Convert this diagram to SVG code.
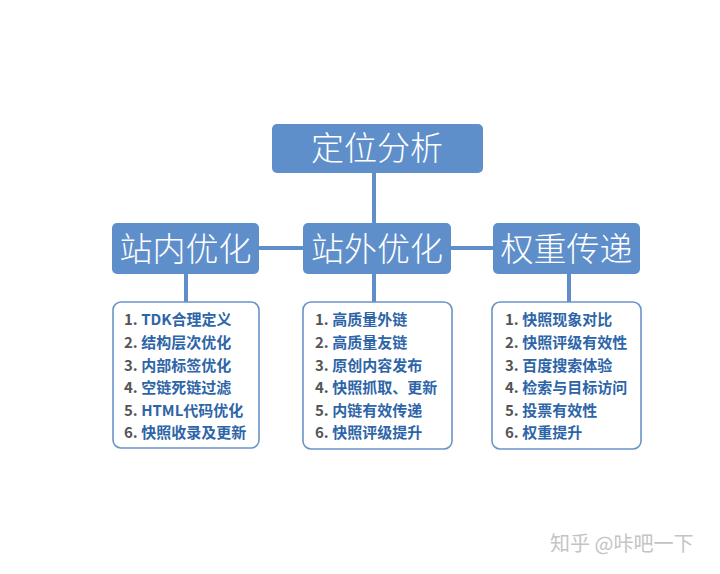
<svg xmlns="http://www.w3.org/2000/svg" width="720" height="574" viewBox="0 0 720 574">
<style>
.hd{fill:#5f8fcb}
.ht{fill:#ffffff;font-family:"Noto Sans CJK SC","Noto Sans",sans-serif;font-weight:300;font-size:33px;text-anchor:middle}
.lb{fill:#ffffff;stroke:#6a94c9;stroke-width:1.6}
.li{font-family:"Noto Sans CJK SC","Noto Sans",sans-serif;font-weight:700;font-size:15px;fill:#2e65a8}
.n{fill:#555555}
.cn{stroke:#5f8fcb;stroke-width:4;fill:none}
</style>
<rect width="720" height="574" fill="#ffffff"/>
<g id="connectors">
<line class="cn" x1="374" y1="172" x2="374" y2="224"/>
<line class="cn" x1="258" y1="248" x2="305" y2="248"/>
<line class="cn" x1="450" y1="248" x2="495" y2="248"/>
<line class="cn" x1="186" y1="272" x2="186" y2="303"/>
<line class="cn" x1="374" y1="272" x2="374" y2="303"/>
<line class="cn" x1="569" y1="272" x2="569" y2="303"/>
</g>
<g id="root">
<rect class="hd" x="272" y="124" width="211" height="49" rx="5"/>
<text class="ht" x="377" y="160">定位分析</text>
</g>
<g id="onsite">
<rect class="hd" x="112" y="223" width="147" height="51" rx="5"/>
<text class="ht" x="185.5" y="261">站内优化</text>
</g>
<g id="offsite">
<rect class="hd" x="303" y="223" width="148" height="51" rx="5"/>
<text class="ht" x="377" y="261">站外优化</text>
</g>
<g id="weight">
<rect class="hd" x="493" y="223" width="147" height="51" rx="5"/>
<text class="ht" x="566.5" y="261">权重传递</text>
</g>
<g id="list-onsite">
<rect class="lb" x="113" y="302" width="146" height="146" rx="8"/>
<text class="li" x="124" y="325"><tspan class="n">1. </tspan>TDK合理定义</text>
<text class="li" x="124" y="348"><tspan class="n">2. </tspan>结构层次优化</text>
<text class="li" x="124" y="371"><tspan class="n">3. </tspan>内部标签优化</text>
<text class="li" x="124" y="393"><tspan class="n">4. </tspan>空链死链过滤</text>
<text class="li" x="124" y="416"><tspan class="n">5. </tspan>HTML代码优化</text>
<text class="li" x="124" y="438"><tspan class="n">6. </tspan>快照收录及更新</text>
</g>
<g id="list-offsite">
<rect class="lb" x="303" y="302" width="149" height="147" rx="8"/>
<text class="li" x="315" y="325"><tspan class="n">1. </tspan>高质量外链</text>
<text class="li" x="315" y="348"><tspan class="n">2. </tspan>高质量友链</text>
<text class="li" x="315" y="371"><tspan class="n">3. </tspan>原创内容发布</text>
<text class="li" x="315" y="393"><tspan class="n">4. </tspan>快照抓取、更新</text>
<text class="li" x="315" y="416"><tspan class="n">5. </tspan>内链有效传递</text>
<text class="li" x="315" y="438"><tspan class="n">6. </tspan>快照评级提升</text>
</g>
<g id="list-weight">
<rect class="lb" x="492" y="302" width="149" height="147" rx="8"/>
<text class="li" x="505" y="325"><tspan class="n">1. </tspan>快照现象对比</text>
<text class="li" x="505" y="348"><tspan class="n">2. </tspan>快照评级有效性</text>
<text class="li" x="505" y="371"><tspan class="n">3. </tspan>百度搜索体验</text>
<text class="li" x="505" y="393"><tspan class="n">4. </tspan>检索与目标访问</text>
<text class="li" x="505" y="416"><tspan class="n">5. </tspan>投票有效性</text>
<text class="li" x="505" y="438"><tspan class="n">6. </tspan>权重提升</text>
</g>
<text x="550" y="551" font-family="Noto Sans CJK SC,sans-serif" font-size="20" fill="#c4c4c4">知乎 @咔吧一下</text>
</svg>
